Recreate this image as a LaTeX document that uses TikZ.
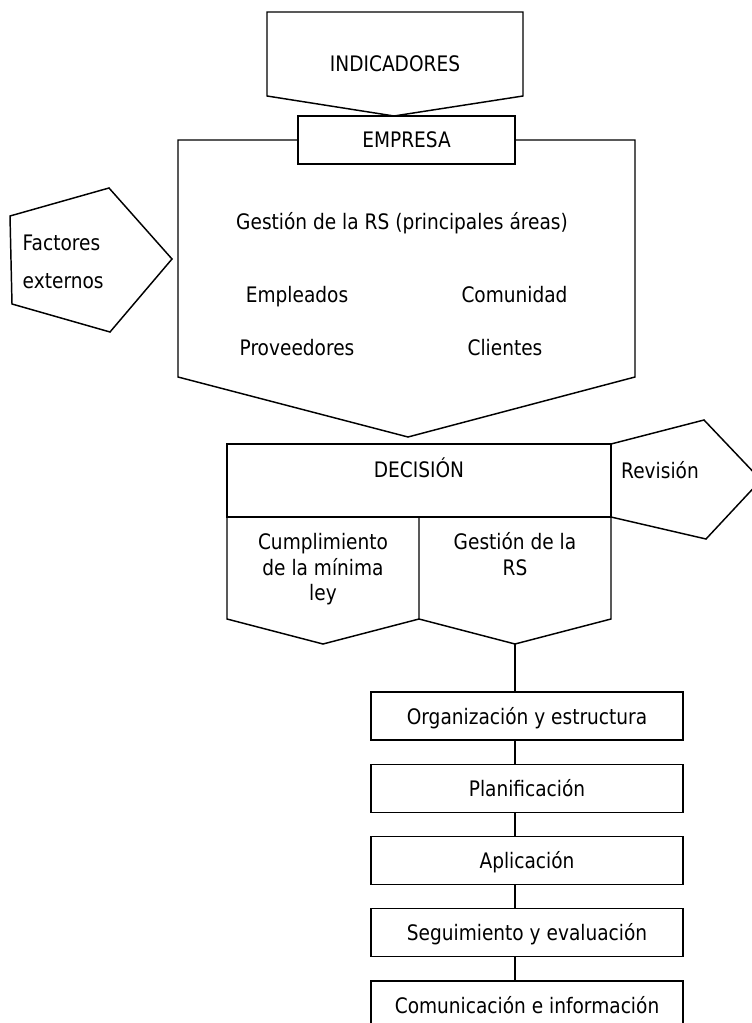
\documentclass[tikz,border=0pt]{standalone}
\usepackage{fontspec}
\setmainfont{DejaVu Sans}[FakeStretch=0.87]
\usepackage{tikz}

\begin{document}
\begin{tikzpicture}[x=0.75pt,y=-0.75pt,line width=1.1pt,
  every node/.style={font=\fontsize{16}{19}\selectfont},
  box/.style={draw,minimum height=36pt,inner sep=0pt,text height=12pt,text depth=0pt},
  lbl/.style={anchor=base,inner sep=0pt}]
\useasboundingbox (0,0) rectangle (752,1023);

\draw (267,12) -- (523,12) -- (523,96) -- (394,116) -- (267,96) -- cycle;
\node[lbl] (indicadores) at (395,72) {INDICADORES};

\node[box,minimum width=162.75pt] (empresa) at (406.5,140) {EMPRESA};
\draw (empresa.west) -- (178,140) -- (178,377) -- (408,437) -- (635,377) -- (635,140) -- (empresa.east);
\node[lbl] (gestion) at (402,230) {Gestión de la RS (principales áreas)};
\node[lbl] (empleados) at (297,302) {Empleados};
\node[lbl] (comunidad) at (514.5,302) {Comunidad};
\node[lbl] (proveedores) at (297,355) {Proveedores};
\node[lbl] (clientes) at (505,355) {Clientes};

\draw (10,216) -- (109,188) -- (172,259) -- (110,332) -- (12,304) -- cycle;
\node[lbl,anchor=base west] (factores) at (22,251) {Factores};
\node[lbl,anchor=base west] (externos) at (22,289) {externos};

\draw (227,444) rectangle (611,517);
\node[lbl] (decision) at (419,477) {DECISIÓN};
\draw (227,517) -- (227,619) -- (323,644) -- (419,619) -- (419,517);
\draw (419,619) -- (515,644) -- (611,619) -- (611,517);
\node[lbl] (cumpl1) at (323,549) {Cumplimiento};
\node[lbl] (cumpl2) at (323,575) {de la mínima};
\node[lbl] (cumpl3) at (323,600) {ley};
\node[lbl] (grs1) at (515,549) {Gestión de la};
\node[lbl] (grs2) at (515,575) {RS};

\draw (611,444) -- (704,420) -- (761,480) -- (706,539) -- (611,517);
\node[lbl] (revision) at (660,478) {Revisión};

\coordinate (gtip) at (515,644);
\foreach \name/\txt/\y in {org/Organización y estructura/716,
    plan/Planificación/788.25, apl/Aplicación/860.5,
    seg/Seguimiento y evaluación/932.75, com/Comunicación e información/1005}
  \node[box,minimum width=234pt] (\name) at (527,\y) {\txt};

\draw (gtip) -- (gtip |- org.north);
\foreach \a/\b in {org/plan,plan/apl,apl/seg,seg/com}
  \draw (\a.south -| gtip) -- (\b.north -| gtip);
\end{tikzpicture}
\end{document}
